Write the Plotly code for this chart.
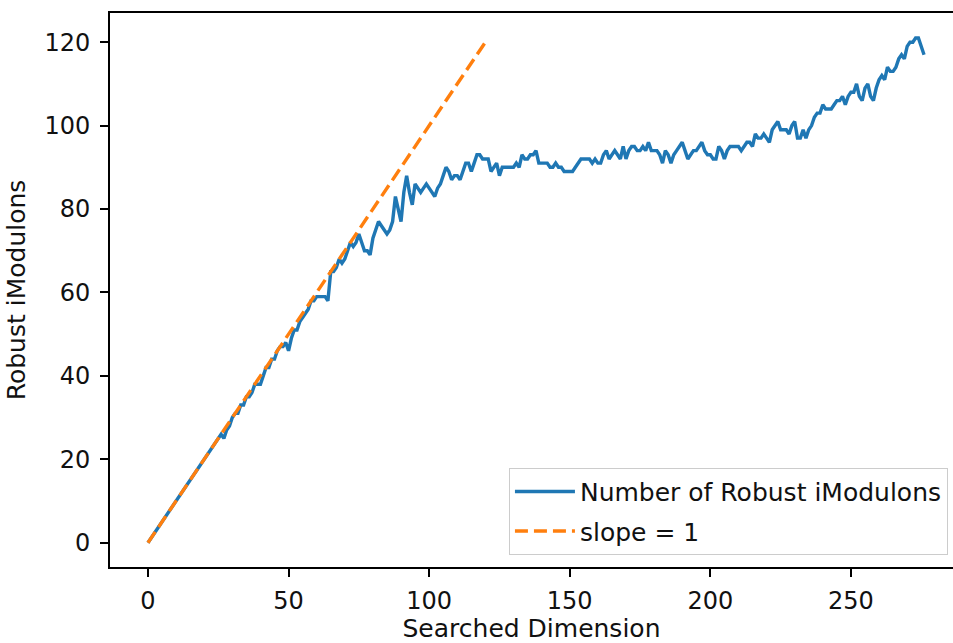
import plotly.graph_objects as go

# Searched dimension (x) and number of robust iModulons (y)
dimension = list(range(0, 277))
robust_imodulons = [
    0, 1, 2, 3, 4, 5, 6, 7, 8, 9,
    10, 11, 12, 13, 14, 15, 16, 17, 18, 19,
    20, 21, 22, 23, 24, 25, 26, 25, 27, 28,
    30, 31, 31, 33, 33, 35, 35, 36, 38, 38,
    38, 40, 42, 42, 44, 44, 46, 47, 47, 48,
    46, 49, 51, 51, 53, 54, 55, 56, 58, 58,
    59, 59, 59, 59, 58, 65, 65, 66, 68, 67,
    68, 70, 72, 71, 72, 74, 72, 70, 70, 69,
    73, 75, 77, 76, 75, 74, 75, 77, 83, 80,
    77, 84, 88, 84, 81, 86, 85, 84, 85, 86,
    85, 84, 83, 85, 86, 88, 90, 89, 87, 88,
    88, 87, 89, 91, 91, 89, 91, 93, 93, 92,
    92, 92, 89, 90, 91, 88, 90, 90, 90, 90,
    90, 91, 90, 93, 92, 92, 93, 93, 94, 91,
    91, 91, 91, 90, 90, 91, 90, 90, 89, 89,
    89, 89, 90, 91, 92, 92, 92, 92, 91, 92,
    91, 91, 93, 94, 92, 93, 94, 93, 92, 95,
    92, 94, 95, 95, 94, 94, 95, 94, 96, 94,
    94, 94, 93, 91, 94, 93, 91, 93, 94, 95,
    96, 94, 92, 93, 94, 94, 95, 96, 94, 93,
    93, 92, 92, 95, 94, 92, 94, 95, 95, 95,
    95, 94, 95, 96, 96, 95, 98, 97, 97, 98,
    97, 96, 99, 100, 101, 99, 99, 99, 98, 100,
    101, 97, 97, 99, 97, 99, 100, 102, 103, 103,
    105, 104, 104, 104, 105, 106, 106, 107, 105, 107,
    108, 108, 110, 107, 106, 109, 110, 107, 106, 109,
    111, 112, 111, 114, 113, 113, 114, 116, 117, 116,
    119, 120, 120, 121, 121, 119, 117,
]

slope_x = [0, 120]
slope_y = [0, 120]

x_ticks = [0, 50, 100, 150, 200, 250]
y_ticks = [0, 20, 40, 60, 80, 100, 120]

FONT = "DejaVu Sans"
FS_TICK = 24
FS_TEXT = 25

fig = go.Figure()
fig.add_trace(go.Scatter(
    x=dimension, y=robust_imodulons, mode="lines",
    name="Number of Robust iModulons", legendgroup="a",
    line=dict(color="#1f77b4", width=3.4),
))
fig.add_trace(go.Scatter(
    x=slope_x, y=slope_y, mode="lines",
    name="slope = 1", legendgroup="b",
    line=dict(color="#ff7f0e", width=3.4, dash="13px,6px"),
))

axis_common = dict(
    showgrid=False, zeroline=False, showline=True,
    linecolor="black", linewidth=1.8,
    ticks="outside", ticklen=8, tickwidth=1.8, tickcolor="black",
    tickfont=dict(family=FONT, size=FS_TICK, color="#111111"),
)

fig.update_layout(
    width=953, height=643,
    margin=dict(l=110, r=0, t=13, b=76),
    paper_bgcolor="white", plot_bgcolor="white",
    font=dict(family=FONT, size=FS_TEXT, color="#111111"),
    xaxis=dict(
        range=[-13.5, 286.3], tickvals=x_ticks, mirror=True,
        ticklabelstandoff=3,
        title=dict(text="Searched Dimension", standoff=6,
                   font=dict(family=FONT, size=FS_TEXT)),
        **axis_common,
    ),
    yaxis=dict(
        range=[-5.83, 127.0], tickvals=y_ticks, mirror=False,
        ticklabelstandoff=5,
        title=dict(text="Robust iModulons", standoff=12,
                   font=dict(family=FONT, size=FS_TEXT)),
        **axis_common,
    ),
    legend=dict(
        x=0.994, y=0.022, xanchor="right", yanchor="bottom",
        bgcolor="white", bordercolor="#cccccc", borderwidth=1,
        font=dict(family=FONT, size=FS_TEXT),
        traceorder="grouped", tracegroupgap=4, itemwidth=60,
    ),
    showlegend=True,
)

fig.write_html(
    "out.html",
    config={"displayModeBar": False},
    post_script="document.body.style.margin='0';document.body.style.overflow='hidden';",
)
